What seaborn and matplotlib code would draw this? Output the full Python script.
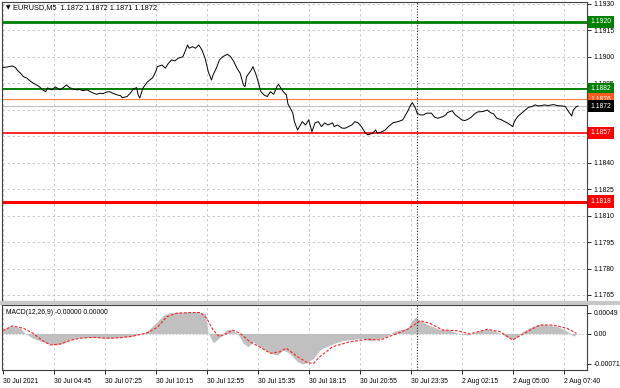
import numpy as np
import pandas as pd
import matplotlib
matplotlib.use("Agg")
import matplotlib.pyplot as plt
import seaborn as sns

# ---------------- data ----------------
price_bars = [0, 3, 6, 8, 9, 11, 13, 15, 17, 19, 22, 23, 25, 27, 28, 31, 33, 35, 36, 38,
              40, 42, 44, 47, 48, 50, 53, 55, 57, 59, 61, 63, 65, 67, 69, 72, 74, 75, 78, 80,
              82, 84, 85, 86, 88, 91, 94, 96, 97, 100, 102, 104, 106, 108, 110, 113, 114, 116, 117, 119,
              121, 123, 125, 127, 129, 131, 132, 134, 136, 138, 141, 143, 145, 147, 149, 151, 152, 153, 156, 157,
              159, 160, 162, 164, 166, 168, 170, 172, 173, 176, 178, 179, 182, 183, 185, 188, 190, 192, 194, 196,
              198, 200, 202, 204, 207, 208, 210, 213, 215, 217, 219, 221, 223, 225, 227, 229, 232, 234, 235, 238,
              240, 242, 245, 248, 251, 254, 256, 257, 259, 260, 262, 264, 266, 269, 271, 273, 276, 278, 279, 282,
              284, 286, 288, 290, 292, 294, 296, 298, 301, 303, 304, 306, 308, 310, 313, 315, 317, 320, 321, 323,
              326, 328, 330, 332, 334, 336, 338, 340, 342, 345, 346, 348, 351, 353, 355, 357, 358, 360, 361]
price_close = [1.18940, 1.18943, 1.18949, 1.18940, 1.18926, 1.18909, 1.18888, 1.18881, 1.18865, 1.18852,
               1.18837, 1.18831, 1.18813, 1.18803, 1.18824, 1.18813, 1.18830, 1.18818, 1.18813, 1.18826,
               1.18841, 1.18826, 1.18818, 1.18813, 1.18817, 1.18809, 1.18813, 1.18803, 1.18794, 1.18788,
               1.18794, 1.18792, 1.18800, 1.18803, 1.18794, 1.18784, 1.18780, 1.18769, 1.18775, 1.18794,
               1.18818, 1.18826, 1.18784, 1.18767, 1.18824, 1.18860, 1.18881, 1.18916, 1.18945, 1.18954,
               1.18936, 1.18964, 1.18983, 1.18977, 1.18992, 1.19001, 1.19021, 1.19068, 1.19049, 1.19058,
               1.19049, 1.19068, 1.19040, 1.18992, 1.18916, 1.18869, 1.18898, 1.18936, 1.18983, 1.19001,
               1.19015, 1.19001, 1.18973, 1.18936, 1.18907, 1.18841, 1.18831, 1.18888, 1.18926, 1.18945,
               1.18898, 1.18869, 1.18803, 1.18784, 1.18775, 1.18803, 1.18788, 1.18831, 1.18845, 1.18803,
               1.18784, 1.18733, 1.18682, 1.18633, 1.18586, 1.18633, 1.18614, 1.18643, 1.18576, 1.18626,
               1.18633, 1.18605, 1.18626, 1.18614, 1.18626, 1.18605, 1.18614, 1.18596, 1.18596, 1.18605,
               1.18614, 1.18633, 1.18626, 1.18605, 1.18576, 1.18558, 1.18567, 1.18586, 1.18567, 1.18576,
               1.18586, 1.18605, 1.18627, 1.18633, 1.18643, 1.18690, 1.18728, 1.18741, 1.18709, 1.18681,
               1.18671, 1.18671, 1.18681, 1.18681, 1.18658, 1.18652, 1.18661, 1.18671, 1.18684, 1.18695,
               1.18671, 1.18658, 1.18643, 1.18639, 1.18647, 1.18658, 1.18677, 1.18688, 1.18690, 1.18695,
               1.18699, 1.18684, 1.18677, 1.18652, 1.18643, 1.18633, 1.18624, 1.18605, 1.18633, 1.18661,
               1.18684, 1.18699, 1.18715, 1.18718, 1.18728, 1.18722, 1.18724, 1.18728, 1.18724, 1.18729,
               1.18729, 1.18724, 1.18722, 1.18718, 1.18690, 1.18665, 1.18699, 1.18718, 1.18722]

hist_bars = [0, 3, 6, 11, 14, 19, 25, 30, 34, 38, 42, 48, 55, 61, 67, 74, 80, 84, 88, 92,
             97, 101, 105, 111, 118, 124, 127, 129, 132, 135, 138, 141, 144, 148, 151, 154, 157, 160, 163, 168,
             172, 176, 180, 185, 188, 191, 195, 199, 203, 207, 213, 220, 226, 230, 235, 241, 245, 249, 254, 257,
             259, 262, 266, 270, 274, 279, 283, 287, 291, 295, 299, 304, 308, 312, 316, 320, 323, 326, 331, 335,
             339, 343, 348, 352, 356, 358, 360]
hist_e5 = [8.2, 14.5, 17.6, 12.2, 0.5, -11.2, -19.2, -25.3, -26.9, -22.9, -15.2, -9.8, -8.9, -9.8, -11.2, -8.9, -7.5, -3.5, 0.5, 9.8,
           27.6, 43.3, 48.7, 50.3, 49.0, 49.0, 47.3, 1.2, -21.5, -13.6, 0.5, 9.8, 8.2, -3.5, -22.9, -30.9, -19.2, -26.9, -34.6, -46.3,
           -50.3, -38.6, -46.3, -66.0, -71.0, -68.0, -58.0, -38.6, -30.9, -24.6, -16.8, -13.6, -11.2, -16.8, -13.6, -7.5, 4.2, 8.2, 12.2, 31.6,
           37.9, 30.0, 22.2, 15.9, 9.8, 9.8, 4.2, -1.2, -3.5, 0.5, 6.6, 9.8, 6.6, 0.5, -7.5, -13.6, -7.5, 4.2, 14.5, 19.9,
           21.5, 19.9, 15.9, 9.8, 0.5, -5.9, -1.9]

signal_bars = [0, 6, 13, 19, 25, 30, 36, 42, 48, 57, 65, 74, 82, 91, 97, 103, 109, 118, 124, 128,
               132, 136, 141, 144, 149, 155, 161, 168, 174, 178, 185, 191, 195, 199, 207, 218, 229, 237, 245, 254,
               262, 268, 276, 285, 293, 304, 312, 320, 329, 337, 345, 354, 360]
signal_e5 = [6.6, 17.6, 12.2, 0.5, -16.8, -26.9, -24.6, -16.8, -11.2, -8.9, -11.2, -9.8, -5.9, 1.9, 14.5, 39.3, 47.3, 49.0, 49.0, 35.6,
             8.2, -7.5, 0.5, 8.2, 0.5, -19.2, -30.9, -46.3, -42.6, -34.6, -54.3, -68.0, -70.0, -54.3, -30.9, -19.2, -13.6, -15.2, -3.5, 9.8,
             30.0, 23.9, 8.2, 6.6, -1.2, 9.8, 4.2, -15.2, 4.2, 19.9, 19.9, 12.2, 0.5]

time_tick_bars = [0, 32, 64, 96, 128, 160, 192, 224, 256, 288, 320, 352]
time_tick_labels = ["30 Jul 2021", "30 Jul 04:45", "30 Jul 07:25", "30 Jul 10:15", "30 Jul 12:55",
                    "30 Jul 15:35", "30 Jul 18:15", "30 Jul 20:55", "30 Jul 23:35", "2 Aug 02:15",
                    "2 Aug 05:00", "2 Aug 07:40"]
price_ticks = [1.1930, 1.1915, 1.1900, 1.1885, 1.1870, 1.1855, 1.1840, 1.1825, 1.1810, 1.1795, 1.1780, 1.1765]

levels = [1.1920, 1.1882, 1.1876, 1.1857, 1.1818]
level_colors = ["#008000", "#008000", "#ff7f3f", "#ff0000", "#ff0000"]
level_box_colors = ["#008000", "#008000", "#ff5a1e", "#ff0000", "#ff0000"]
level_widths = [2.0, 1.4, 0.8, 1.2, 2.2]
bid_price = 1.1872
separator_bar = 260

macd_ticks = [0.00049, 0.0, -0.00071]
macd_tick_labels = ["0.00049", "0.00", "-0.00071"]

title_text = "EURUSD,M5  1.1872 1.1872 1.1871 1.1872"
macd_text = "MACD(12,26,9) -0.00000 0.00000"

# ---------------- style ----------------
sns.set_theme(style="white")
plt.rcParams['font.family'] = ['Liberation Sans', 'DejaVu Sans']
FS = 4.9

fig = plt.figure(figsize=(6.2, 3.88), dpi=100)
fig.patch.set_facecolor("white")

W, H = 620.0, 388.0
ax = fig.add_axes([2 / W, 1 - 301 / H, 585 / W, 299 / H])
axm = fig.add_axes([2 / W, 1 - 370 / H, 585 / W, 65 / H], sharex=ax)

# panel separator band
fig.patches.append(plt.Rectangle((0, 1 - 305 / H), 1, 4 / H, transform=fig.transFigure,
                                 facecolor="#c8c8c8", edgecolor="none", zorder=0))

df_price = pd.DataFrame({"bar": price_bars, "price": price_close})
df_hist = pd.DataFrame({"bar": hist_bars, "macd": np.array(hist_e5) * 1e-5})
df_sig = pd.DataFrame({"bar": signal_bars, "signal": np.array(signal_e5) * 1e-5})

xmin, xmax = -0.44, 366.6
grid_kw = dict(color="#c4c4c4", lw=0.6, linestyle=(0, (3, 3)), zorder=0)

# ---- main panel ----
for b in time_tick_bars:
    ax.axvline(b, **grid_kw)
for p in price_ticks:
    ax.axhline(p, **grid_kw)

ax.axhline(bid_price, color="#c0c0c0", lw=0.8, zorder=1)
for lv, c, lw in zip(levels, level_colors, level_widths):
    ax.axhline(lv, color=c, lw=lw, zorder=2)

sns.lineplot(data=df_price, x="bar", y="price", ax=ax, color="black", lw=0.7, zorder=3)
ax.axvline(separator_bar, color="#202020", lw=0.8, linestyle=(0, (1, 1.5)), zorder=4)

ax.set_xlim(xmin, xmax)
ax.set_ylim(1.1930 - 299 / 17636 + 2 / 17636, 1.1930 + 2 / 17636)
ax.yaxis.tick_right()
ax.set_yticks(price_ticks)
ax.set_yticklabels([f"{p:.4f}" for p in price_ticks])
ax.tick_params(axis="y", which="both", right=True, length=3, width=0.6, pad=1.5,
               labelsize=FS, colors="black")
ax.tick_params(axis="x", bottom=False, labelbottom=False)
ax.set_xlabel("")
ax.set_ylabel("")
for s in ax.spines.values():
    s.set_color("#404040")
    s.set_linewidth(0.8)

# right-side level boxes
for i in range(len(levels)):
    ax.annotate(f"{levels[i]:.4f}", xy=(1.0, levels[i]), xycoords=("axes fraction", "data"),
                xytext=(2.6, 0), textcoords="offset points", ha="left", va="center",
                fontsize=FS, color="white",
                bbox=dict(boxstyle="square,pad=0.38", fc=level_box_colors[i], ec="none"),
                annotation_clip=False, zorder=10)
ax.annotate(f"{bid_price:.4f}", xy=(1.0, bid_price), xycoords=("axes fraction", "data"),
            xytext=(2.6, 0), textcoords="offset points", ha="left", va="center",
            fontsize=FS, color="white",
            bbox=dict(boxstyle="square,pad=0.38", fc="black", ec="none"),
            annotation_clip=False, zorder=11)

ax.text(4 / 585, 1 - 6 / 299, "\u25BC", transform=ax.transAxes, fontsize=4.2,
        family=["DejaVu Sans"], va="center", ha="left", color="black")
ax.text(11 / 585, 1 - 6 / 299, title_text, transform=ax.transAxes, fontsize=5.3,
        va="center", ha="left", color="black")

# ---- MACD panel ----
for b in time_tick_bars:
    axm.axvline(b, **grid_kw)
axm.axhline(0.0, color="#c4c4c4", lw=0.6, linestyle=(0, (2, 2)), zorder=0)
axm.fill_between(df_hist["bar"], 0, df_hist["macd"], color="#c0c0c0", lw=0, zorder=1)
sns.lineplot(data=df_sig, x="bar", y="signal", ax=axm, color="#ff2020", lw=0.8,
             linestyle=(0, (2.5, 1.5)), zorder=3)
axm.axvline(separator_bar, color="#202020", lw=0.8, linestyle=(0, (1, 1.5)), zorder=4)

axm.set_xlim(xmin, xmax)
axm.set_ylim(-36.5 / 42750, 28.5 / 42750)
axm.yaxis.tick_right()
axm.set_yticks(macd_ticks)
axm.set_yticklabels(macd_tick_labels)
axm.tick_params(axis="y", right=True, length=3, width=0.6, pad=1.5, labelsize=FS, colors="black")
axm.set_xticks(time_tick_bars)
axm.set_xticklabels(time_tick_labels, ha="left")
axm.tick_params(axis="x", bottom=True, length=3, width=0.6, pad=2.5, labelsize=FS, colors="black")
axm.set_xlabel("")
axm.set_ylabel("")
for s in axm.spines.values():
    s.set_color("#404040")
    s.set_linewidth(0.8)
axm.text(4 / 585, 1 - 8 / 65, macd_text, transform=axm.transAxes, fontsize=FS,
         va="center", ha="left", color="black")

fig.savefig("out.png", dpi=100, facecolor="white")
